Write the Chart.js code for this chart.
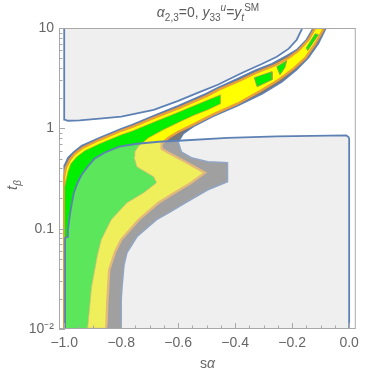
<!DOCTYPE html>
<html>
<head>
<meta charset="utf-8">
<script src="https://cdn.jsdelivr.net/npm/chart.js@4.4.1/dist/chart.umd.min.js"></script>
<style>
  html, body { margin: 0; padding: 0; background: #fff; }
</style>
</head>
<body>
<canvas id="contourChart" width="365" height="374"></canvas>
<script>
// axis ticks
var xTicks = [-1.0, -0.8, -0.6, -0.4, -0.2, 0.0];
var xLabels = ['\u22121.0', '\u22120.8', '\u22120.6', '\u22120.4', '\u22120.2', '0.0'];
var yTicks = [0.01, 0.1, 1, 10];
var yLabels = ['10\u207B\u00B2', '0.1', '1', '10'];

// regions as [s_alpha, t_beta] outlines
var excludedTop = [
  [-1.0, 10], [-0.164, 10], [-0.184, 7.64], [-0.212, 6.22], [-0.254, 5.17], [-0.305, 4.40],
  [-0.375, 3.58], [-0.461, 2.72], [-0.530, 2.27], [-0.600, 1.88], [-0.686, 1.53], [-0.800, 1.31],
  [-0.876, 1.25], [-0.946, 1.20], [-0.987, 1.19], [-0.998, 1.22], [-1.0, 1.37]
];
var excludedBottom = [
  [0.0, 0.805], [-0.010, 0.85], [-0.254, 0.83], [-0.427, 0.805], [-0.600, 0.752], [-0.669, 0.735],
  [-0.745, 0.702], [-0.807, 0.656], [-0.859, 0.571], [-0.894, 0.497], [-0.918, 0.414], [-0.939, 0.345],
  [-0.953, 0.287], [-0.966, 0.228], [-0.973, 0.181], [-0.980, 0.138], [-0.987, 0.0975], [-0.987, 0.083],
  [-0.997, 0.081], [-0.997, 0.01], [0.0, 0.01]
];
var band3 = [
  [-0.126, 10], [-0.150, 7.64], [-0.184, 6.08], [-0.219, 5.30], [-0.271, 4.40], [-0.333, 3.75],
  [-0.392, 3.12], [-0.461, 2.54], [-0.503, 2.21], [-0.600, 1.68], [-0.686, 1.34], [-0.762, 1.09],
  [-0.800, 0.99], [-0.876, 0.805], [-0.939, 0.671], [-0.966, 0.584], [-0.987, 0.509], [-0.998, 0.434],
  [-1.0, 0.369], [-1.0, 0.01], [-0.800, 0.01], [-0.800, 0.0195], [-0.797, 0.0263], [-0.790, 0.0437],
  [-0.780, 0.0575], [-0.745, 0.083], [-0.676, 0.123], [-0.634, 0.144], [-0.575, 0.181], [-0.496, 0.244],
  [-0.427, 0.294], [-0.427, 0.454], [-0.496, 0.465], [-0.554, 0.509], [-0.589, 0.584], [-0.600, 0.735],
  [-0.582, 0.884], [-0.547, 1.04], [-0.479, 1.31], [-0.392, 1.68], [-0.305, 2.21], [-0.236, 2.91],
  [-0.184, 3.84], [-0.143, 5.06], [-0.108, 6.97], [-0.081, 10]
];
var band2 = [
  [-0.119, 10], [-0.143, 7.64], [-0.178, 5.94], [-0.212, 5.06], [-0.264, 4.21], [-0.326, 3.58],
  [-0.385, 2.98], [-0.458, 2.43], [-0.499, 2.11], [-0.596, 1.60], [-0.683, 1.28], [-0.759, 1.04],
  [-0.800, 0.946], [-0.876, 0.769], [-0.935, 0.641], [-0.963, 0.558], [-0.980, 0.486], [-0.994, 0.405],
  [-1.0, 0.329], [-1.0, 0.01], [-0.852, 0.01], [-0.849, 0.0182], [-0.842, 0.039], [-0.821, 0.0589],
  [-0.800, 0.0775], [-0.738, 0.123], [-0.669, 0.181], [-0.624, 0.218], [-0.554, 0.287], [-0.506, 0.361],
  [-0.575, 0.465], [-0.634, 0.571], [-0.658, 0.626], [-0.658, 0.702], [-0.634, 0.805], [-0.600, 0.925],
  [-0.548, 1.09], [-0.479, 1.37], [-0.392, 1.76], [-0.316, 2.32], [-0.247, 3.05], [-0.195, 3.93],
  [-0.153, 5.06], [-0.119, 6.97], [-0.088, 10]
];
var band1 = [
  [-0.451, 2.16], [-0.503, 1.88], [-0.596, 1.46], [-0.683, 1.16], [-0.759, 0.946], [-0.800, 0.863],
  [-0.876, 0.702], [-0.928, 0.598], [-0.956, 0.521], [-0.977, 0.444], [-0.987, 0.369], [-0.994, 0.30],
  [-1.0, 0.25], [-1.0, 0.01], [-0.918, 0.01], [-0.904, 0.0263], [-0.883, 0.055], [-0.870, 0.0775],
  [-0.835, 0.123], [-0.780, 0.181], [-0.721, 0.228], [-0.676, 0.287], [-0.686, 0.329], [-0.745, 0.414],
  [-0.755, 0.521], [-0.752, 0.584], [-0.738, 0.671], [-0.704, 0.805], [-0.652, 0.968], [-0.600, 1.14],
  [-0.547, 1.34], [-0.496, 1.53], [-0.451, 1.76]
];
var islandA = [[-0.333, 3.20], [-0.271, 3.67], [-0.271, 3.05], [-0.323, 2.60]];
var islandB = [[-0.254, 4.12], [-0.219, 4.72], [-0.226, 4.02], [-0.243, 3.42]];
var islandC = [[-0.119, 8.77], [-0.108, 8.58], [-0.146, 5.94], [-0.150, 6.36]];

var BLUE = '#5e81b5';
var ORANGE = '#e9a03a';

function poly(pts, fillColor, lineColor, lineWidth, order) {
  var d = pts.map(function (p) { return { x: p[0], y: p[1] }; });
  d.push({ x: pts[0][0], y: pts[0][1] });
  return {
    data: d, showLine: true, fill: 'shape', backgroundColor: fillColor,
    borderColor: lineColor, borderWidth: lineWidth, pointRadius: 0,
    pointHoverRadius: 0, tension: 0, order: order
  };
}

function fontOf(p) {
  return (p.i ? 'italic ' : '') + p.s + 'px "Liberation Sans", Arial, sans-serif';
}

function richText(ctx, parts, x, y) {
  var w = 0;
  parts.forEach(function (p) { ctx.font = fontOf(p); w += ctx.measureText(p.t).width; });
  var cx = x - w / 2;
  parts.forEach(function (p) {
    ctx.font = fontOf(p);
    ctx.fillText(p.t, cx, y + (p.dy || 0));
    cx += ctx.measureText(p.t).width;
  });
}

var framePlugin = {
  id: 'frame',
  afterDraw: function (chart) {
    var ctx = chart.ctx, ca = chart.chartArea;
    var xs = chart.scales.x, ys = chart.scales.y;
    ctx.save();
    ctx.strokeStyle = '#a8a8a8';
    ctx.lineWidth = 1;
    ctx.strokeRect(ca.left + 0.5, ca.top + 0.5, ca.right - ca.left - 1, ca.bottom - ca.top - 1);
    ctx.beginPath();
    // inward ticks
    for (var v = -1.0; v <= 0.001; v += 0.05) {
      var px = Math.round(xs.getPixelForValue(v)) + 0.5;
      var major = Math.abs(v * 5 - Math.round(v * 5)) < 0.001;
      ctx.moveTo(px, ca.bottom);
      ctx.lineTo(px, ca.bottom - (major ? 6 : 3.5));
    }
    for (var e = -2; e <= 0; e++) {
      for (var k = 1; k <= 10; k++) {
        var val = k * Math.pow(10, e);
        var py = Math.round(ys.getPixelForValue(val)) + 0.5;
        var big = (k === 1 || k === 10);
        ctx.moveTo(ca.left, py);
        ctx.lineTo(ca.left + (big ? 6 : 3.5), py);
      }
    }
    ctx.stroke();

    ctx.fillStyle = '#5c5c5c';
    ctx.textBaseline = 'alphabetic';
    richText(ctx, [
      { t: '\u03B1', i: 1, s: 14 }, { t: '2,3', s: 10, dy: 4 }, { t: '=0, ', s: 14 },
      { t: 'y', i: 1, s: 14 }, { t: '33', s: 10, dy: 4 }, { t: 'u', i: 1, s: 10, dy: -6 },
      { t: '=', s: 14 }, { t: 'y', i: 1, s: 14 }, { t: 't', i: 1, s: 10, dy: 4 },
      { t: 'SM', s: 10, dy: -6 }
    ], 208, 17);
    ctx.fillStyle = '#666';
    richText(ctx, [{ t: 's', s: 14 }, { t: '\u03B1', i: 1, s: 14 }], (ca.left + ca.right) / 2, 368);
    ctx.translate(17, 185);
    ctx.rotate(-Math.PI / 2);
    richText(ctx, [{ t: 't', i: 1, s: 15 }, { t: '\u03B2', i: 1, s: 10, dy: 4 }], 0, 0);
    ctx.restore();
  }
};

var ctx = document.getElementById('contourChart').getContext('2d');
var contourChart = new Chart(ctx, {
  type: 'scatter',
  data: {
    datasets: [
      poly(band3, '#777777', BLUE, 1.5, 9),
      poly(band2, '#ffff00', ORANGE, 2.4, 8),
      poly(band1, '#00f000', 'rgba(225,160,60,0.7)', 1, 7),
      poly(islandA, '#00f000', 'rgba(150,150,90,0.8)', 1, 6),
      poly(islandB, '#00f000', 'rgba(150,150,90,0.8)', 1, 5),
      poly(islandC, '#00f000', 'rgba(150,150,90,0.8)', 1, 4),
      poly(excludedTop, 'rgba(216,216,216,0.42)', BLUE, 1.8, 3),
      poly(excludedBottom, 'rgba(216,216,216,0.42)', BLUE, 1.8, 2)
    ]
  },
  options: {
    responsive: false,
    animation: false,
    devicePixelRatio: 1,
    events: [],
    layout: { padding: { top: 28, right: 5, left: 0, bottom: 0 } },
    plugins: {
      legend: { display: false },
      tooltip: { enabled: false }
    },
    scales: {
      x: {
        type: 'linear',
        min: -1.0183,
        max: 0.0232,
        afterBuildTicks: function (scale) {
          scale.ticks = xTicks.map(function (v) { return { value: v }; });
        },
        afterFit: function (scale) { scale.height = 45; },
        grid: { display: false, drawTicks: false },
        border: { display: false },
        ticks: {
          padding: 6,
          autoSkip: false,
          maxRotation: 0,
          color: '#666',
          font: { family: '"Liberation Sans", Arial, sans-serif', size: 14 },
          callback: function (value, index) { return xLabels[index]; }
        }
      },
      y: {
        type: 'logarithmic',
        min: 0.01,
        max: 10,
        afterBuildTicks: function (scale) {
          scale.ticks = yTicks.map(function (v) { return { value: v }; });
        },
        afterFit: function (scale) { scale.width = 59; },
        grid: { display: false, drawTicks: false },
        border: { display: false },
        ticks: {
          padding: 5,
          autoSkip: false,
          color: '#666',
          font: { family: '"Liberation Sans", Arial, sans-serif', size: 14 },
          callback: function (value, index) { return yLabels[index]; }
        }
      }
    }
  },
  plugins: [framePlugin]
});
</script>
</body>
</html>
